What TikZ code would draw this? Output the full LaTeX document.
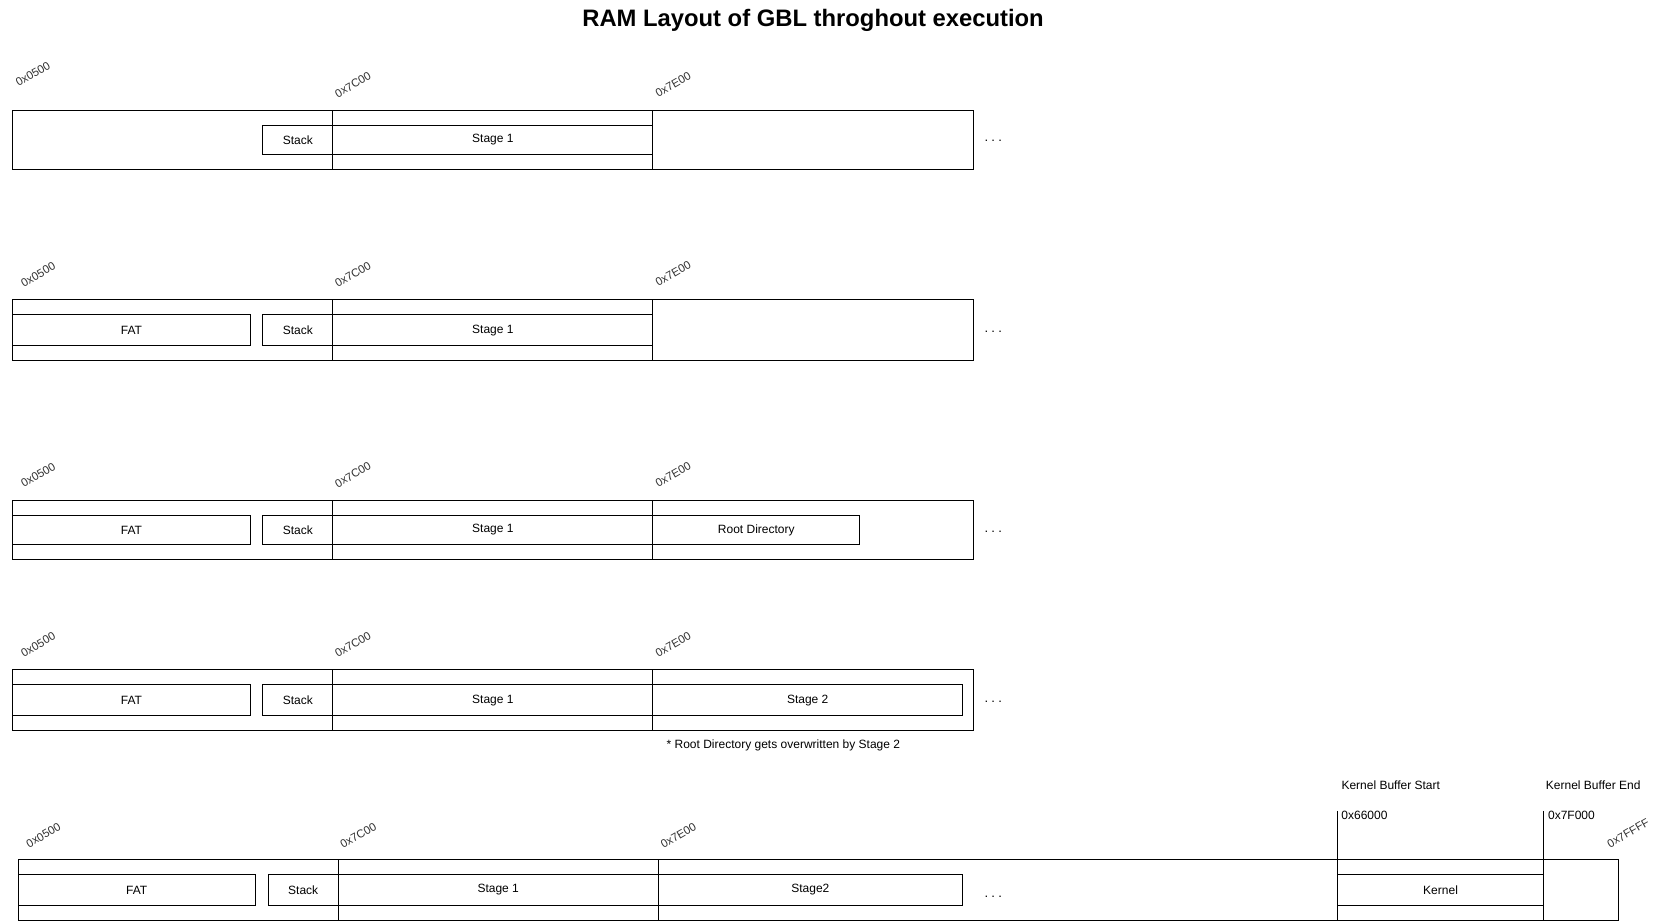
\documentclass[tikz,border=0pt]{standalone}
\usepackage{fontspec}
\setmainfont{Liberation Sans}
\begin{document}
\begin{tikzpicture}[x=1.06pt,y=-1.06pt,
  line width=1pt,
  txt/.style={font=\fontsize{12}{14}\selectfont, inner sep=0pt},
  addr/.style={font=\fontsize{11.4}{13}\selectfont, text=black!80, rotate=30, inner sep=0pt},
  dots/.style={font=\fontsize{13}{14}\selectfont, inner sep=0pt},
]
\useasboundingbox (0,0) rectangle (1567.9,869.8);
% box with a centred label
\newcommand\rbox[6]{%
  \draw (#2,#3) rectangle (#4,#5);
  \node[txt] (#1) at ({(#2+#4)/2},{(#3+#5)/2}) {#6};}
% empty box
\newcommand\ebox[4]{\draw (#1,#2) rectangle (#3,#4);}
\newcommand\mydots{.\hspace{3.2pt}.\hspace{3.2pt}.}

\node[font=\bfseries\fontsize{23.8}{27}\selectfont, inner sep=0pt] (title) at (767,19) {RAM Layout of GBL throghout execution};

% Row 1
\ebox{12}{104}{918}{160}
\ebox{314}{104}{616}{160}
\ebox{616}{104}{918}{160}
\rbox{r1stack}{248}{118}{314}{146}{Stack}
\rbox{r1s1}{314}{118}{616}{146}{Stage 1}
\node[addr] (r1a) at (31,70) {0x0500};
\node[addr] (r1b) at (333,80) {0x7C00};
\node[addr] (r1c) at (635,80) {0x7E00};
\node[dots] (r1d) at (937,133) {\mydots};

% Row 2
\ebox{12}{283}{918}{340}
\ebox{314}{283}{616}{340}
\ebox{616}{283}{918}{340}
\rbox{r2fat}{12}{297}{236}{326}{FAT}
\rbox{r2stack}{248}{297}{314}{326}{Stack}
\rbox{r2s1}{314}{297}{616}{326}{Stage 1}
\node[addr] (r2a) at (36,259) {0x0500};
\node[addr] (r2b) at (333,259) {0x7C00};
\node[addr] (r2c) at (635,258) {0x7E00};
\node[dots] (r2d) at (937,313) {\mydots};

% Row 3
\ebox{12}{472}{918}{528}
\ebox{314}{472}{616}{528}
\ebox{616}{472}{918}{528}
\rbox{r3fat}{12}{486}{236}{514}{FAT}
\rbox{r3stack}{248}{486}{314}{514}{Stack}
\rbox{r3s1}{314}{486}{616}{514}{Stage 1}
\rbox{r3root}{616}{486}{811}{514}{Root Directory}
\node[addr] (r3a) at (36,448) {0x0500};
\node[addr] (r3b) at (333,448) {0x7C00};
\node[addr] (r3c) at (635,448) {0x7E00};
\node[dots] (r3d) at (937,502) {\mydots};

% Row 4
\ebox{12}{632}{918}{689}
\ebox{314}{632}{616}{689}
\ebox{616}{632}{918}{689}
\rbox{r4fat}{12}{646}{236}{675}{FAT}
\rbox{r4stack}{248}{646}{314}{675}{Stack}
\rbox{r4s1}{314}{646}{616}{675}{Stage 1}
\rbox{r4s2}{616}{646}{908}{675}{Stage 2}
\node[addr] (r4a) at (36,608) {0x0500};
\node[addr] (r4b) at (333,608) {0x7C00};
\node[addr] (r4c) at (635,608) {0x7E00};
\node[dots] (r4d) at (937,662) {\mydots};
\node[txt] (note) at (739,703) {* Root Directory gets overwritten by Stage 2};

% Row 5
\ebox{17}{811}{1527}{868}
\ebox{319}{811}{621}{868}
\ebox{1262}{811}{1456}{868}
\rbox{r5fat}{17}{825}{241}{854}{FAT}
\rbox{r5stack}{253}{825}{319}{854}{Stack}
\rbox{r5s1}{319}{825}{621}{854}{Stage 1}
\rbox{r5s2}{621}{825}{908}{854}{Stage2}
\rbox{r5kern}{1262}{825}{1456}{854}{Kernel}
\node[addr] (r5a) at (41,788) {0x0500};
\node[addr] (r5b) at (338,788) {0x7C00};
\node[addr] (r5c) at (640,788) {0x7E00};
\node[addr] (r5e) at (1536,786) {0x7FFFF};
\node[dots] (r5d) at (937,846) {\mydots};
\coordinate (kst) at (1262,765);
\coordinate (kstb) at (1262,811);
\coordinate (ken) at (1456,765);
\coordinate (kenb) at (1456,811);
\draw (kst) -- (kstb);
\draw (ken) -- (kenb);
\node[txt, anchor=west] (k66) at (1265,769) {0x66000};
\node[txt, anchor=west] (k7f) at (1460,769) {0x7F000};
\node[txt] (kbs) at (1312,741) {Kernel Buffer Start};
\node[txt] (kbe) at (1503,741) {Kernel Buffer End};
\end{tikzpicture}
\end{document}
